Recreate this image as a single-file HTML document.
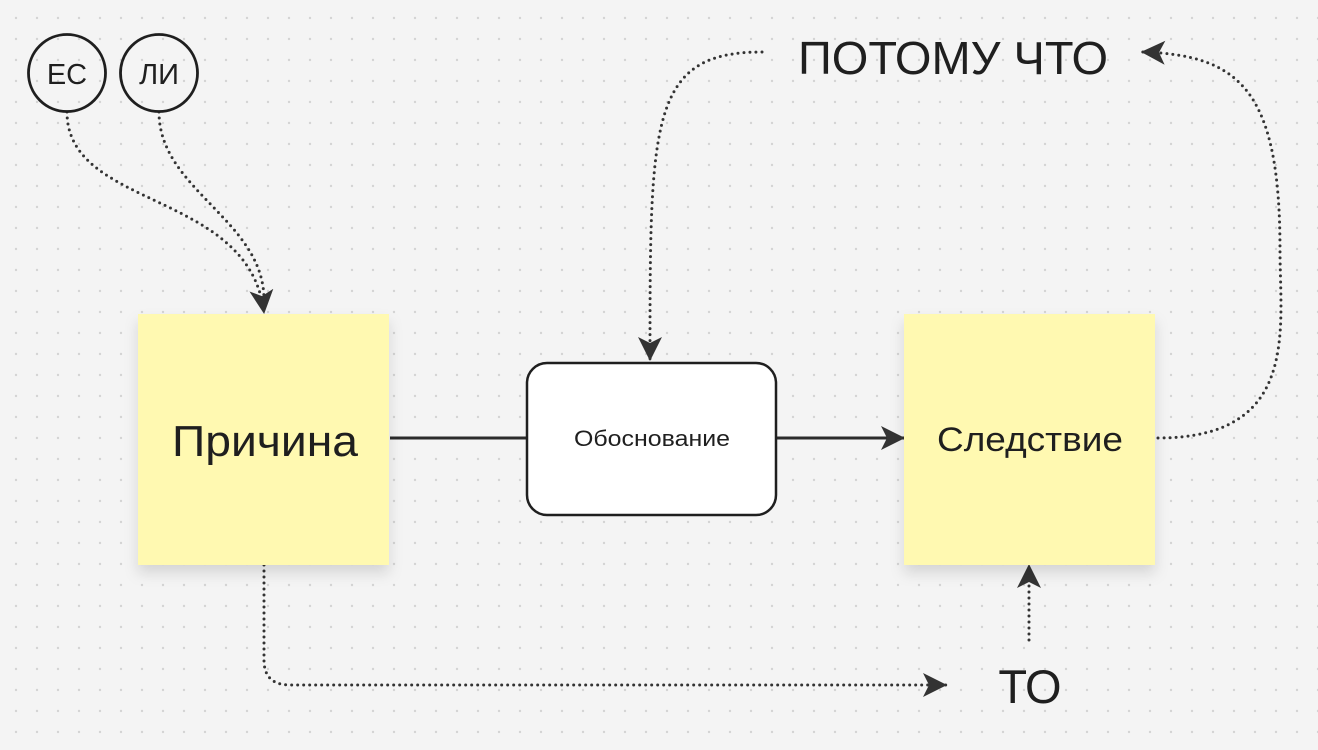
<!DOCTYPE html>
<html><head><meta charset="utf-8"><style>
body{margin:0;background:#f4f4f4;}
svg{display:block}
text{font-family:"Liberation Sans","DejaVu Sans",sans-serif;fill:#1f1f1f}
</style></head><body>
<svg width="1318" height="750" viewBox="0 0 1318 750" xmlns="http://www.w3.org/2000/svg">
<defs>
<pattern id="g" x="5.5" y="7.5" width="21" height="21" patternUnits="userSpaceOnUse"><circle cx="10.5" cy="10.5" r="1.2" fill="#d4d4d4"/></pattern>
<marker id="b" markerWidth="26" markerHeight="26" refX="23" refY="13" orient="auto" markerUnits="userSpaceOnUse" viewBox="0 0 26 26"><path d="M0,1 L24,13 L0,25 L6,13 z" fill="#333"/></marker>
<filter id="s" x="-20%" y="-20%" width="140%" height="150%"><feDropShadow dx="0" dy="8" stdDeviation="7" flood-color="#000" flood-opacity="0.13"/></filter>
</defs>
<rect width="1318" height="750" fill="#f4f4f4"/>
<rect width="1318" height="750" fill="url(#g)"/>

<g fill="none" stroke="#333" stroke-width="3" stroke-dasharray="0 6" stroke-linecap="round">
<path d="M67,112 C67,210 250,190 264,313" marker-end="url(#b)"/>
<path d="M159,112 C159,190 264,220 264,300"/>
<path d="M762,52 C650,52 650,120 650,360" marker-end="url(#b)"/>
<path d="M1158,438 C1300,438 1280,330 1280,250 C1280,90 1240,55 1142,52" marker-end="url(#b)"/>
<path d="M264,565 L264,660 Q264,685 290,685 L946,685" marker-end="url(#b)"/>
<path d="M1029,640 L1029,565" marker-end="url(#b)"/>
</g>
<line x1="390" y1="438" x2="527" y2="438" stroke="#2b2b2b" stroke-width="3"/>
<line x1="777" y1="438" x2="904" y2="438" stroke="#2b2b2b" stroke-width="3" marker-end="url(#b)"/>

<circle cx="67" cy="73" r="38.5" fill="none" stroke="#1f1f1f" stroke-width="2.8"/>
<circle cx="159" cy="73" r="38.5" fill="none" stroke="#1f1f1f" stroke-width="2.8"/>
<text x="67" y="84" font-size="29" text-anchor="middle">ЕС</text>
<text x="159" y="84" font-size="29" text-anchor="middle">ЛИ</text>

<rect x="138" y="314" width="251" height="251" fill="#fff9b1" filter="url(#s)"/>
<text x="172" y="456" font-size="44" textLength="186" lengthAdjust="spacingAndGlyphs">Причина</text>

<rect x="904" y="314" width="251" height="251" fill="#fff9b1" filter="url(#s)"/>
<text x="937" y="451" font-size="34" textLength="186" lengthAdjust="spacingAndGlyphs">Следствие</text>

<rect x="527" y="363" width="249" height="152" rx="20" fill="#fff" stroke="#1f1f1f" stroke-width="2.5"/>
<text x="574" y="446" font-size="22" textLength="156" lengthAdjust="spacingAndGlyphs">Обоснование</text>

<text x="798" y="74" font-size="46" textLength="310" lengthAdjust="spacingAndGlyphs">ПОТОМУ ЧТО</text>
<text x="1030" y="703" font-size="47" text-anchor="middle">ТО</text>
</svg>
</body></html>
